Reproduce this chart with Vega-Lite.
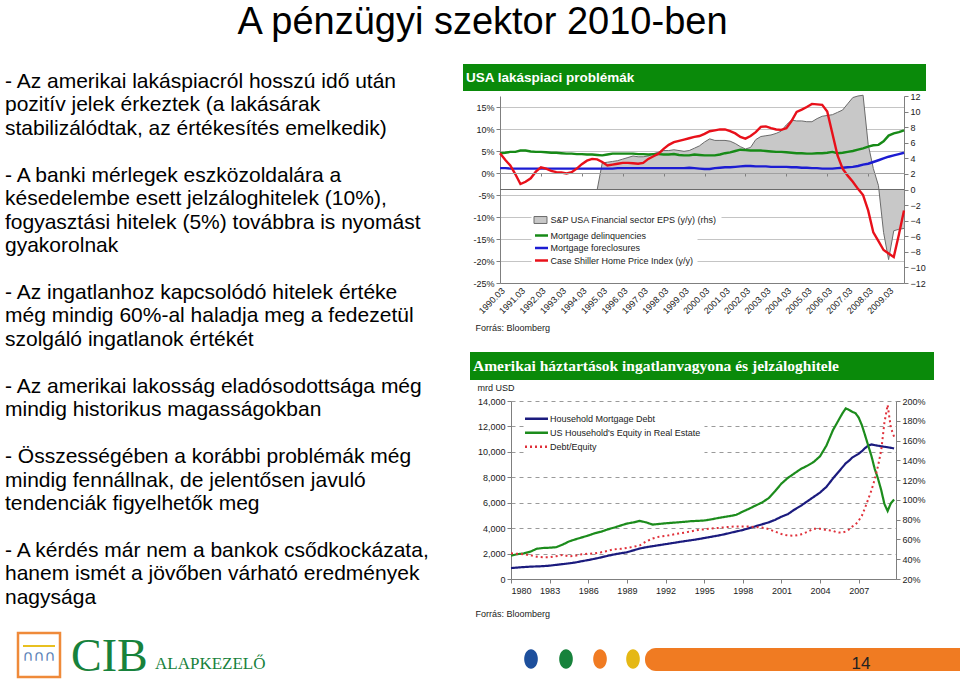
{
"$schema": "https://vega.github.io/schema/vega-lite/v6.json",
"background": "white",
"padding": {"left": 5, "top": 4, "right": 0, "bottom": 0},
"title": {"text": "A pénzügyi szektor 2010-ben", "font": "Liberation Sans", "fontSize": 38, "fontWeight": "normal", "color": "#000000", "anchor": "middle", "offset": 22},
"spacing": 10,
"resolve": {"scale": {"color": "independent", "fill": "independent", "stroke": "independent", "strokeDash": "independent"}},
"vconcat": [
 {"spacing": 0,
  "resolve": {"scale": {"color": "independent", "fill": "independent", "stroke": "independent", "strokeDash": "independent"}},
  "hconcat": [
  {"width": 458, "height": 556,
   "data": {"values": [
    {"line": 0, "text": "- Az amerikai lakáspiacról hosszú idő után"},
    {"line": 1, "text": "pozitív jelek érkeztek (a lakásárak"},
    {"line": 2, "text": "stabilizálódtak, az értékesítés emelkedik)"},
    {"line": 4, "text": "- A banki mérlegek eszközoldalára a"},
    {"line": 5, "text": "késedelembe esett jelzáloghitelek (10%),"},
    {"line": 6, "text": "fogyasztási hitelek (5%) továbbra is nyomást"},
    {"line": 7, "text": "gyakorolnak"},
    {"line": 9, "text": "- Az ingatlanhoz kapcsolódó hitelek értéke"},
    {"line": 10, "text": "még mindig 60%-al haladja meg a fedezetül"},
    {"line": 11, "text": "szolgáló ingatlanok értékét"},
    {"line": 13, "text": "- Az amerikai lakosság eladósodottsága még"},
    {"line": 14, "text": "mindig historikus magasságokban"},
    {"line": 16, "text": "- Összességében a korábbi problémák még"},
    {"line": 17, "text": "mindig fennállnak, de jelentősen javuló"},
    {"line": 18, "text": "tendenciák figyelhetők meg"},
    {"line": 20, "text": "- A kérdés már nem a bankok csődkockázata,"},
    {"line": 21, "text": "hanem ismét a jövőben várható eredmények"},
    {"line": 22, "text": "nagysága"}
   ]},
   "mark": {"type": "text", "align": "left", "baseline": "middle", "fontSize": 21, "font": "Liberation Sans", "color": "#000000"},
   "encoding": {
    "x": {"datum": 0, "type": "quantitative", "scale": {"domain": [0, 1]}, "axis": null},
    "y": {"field": "line", "type": "quantitative", "scale": {"domain": [-0.768, 22.943], "reverse": true, "nice": false, "zero": false}, "axis": null},
    "text": {"field": "text", "type": "nominal"}
   }
  },
  {"spacing": 20,
   "resolve": {"scale": {"color": "independent", "fill": "independent", "stroke": "independent", "strokeDash": "independent"}},
   "vconcat": [
   {"spacing": 1,
    "resolve": {"scale": {"color": "independent", "fill": "independent", "stroke": "independent", "strokeDash": "independent"}},
    "vconcat": [
    {"width": 463, "height": 27, "view": {"fill": "#0a8a0a", "stroke": null},
     "data": {"values": [{"t": "USA lakáspiaci problémák"}]},
     "mark": {"type": "text", "align": "left", "baseline": "middle", "dx": 3, "fontSize": 13.5, "fontWeight": "bold", "font": "Liberation Sans", "color": "#ffffff"},
     "encoding": {
      "x": {"datum": 0, "type": "quantitative", "scale": {"domain": [0, 1]}, "axis": null},
      "y": {"datum": 0.5, "type": "quantitative", "scale": {"domain": [0, 1]}, "axis": null},
      "text": {"field": "t", "type": "nominal"}
     }
    },
    {"spacing": 0,
     "resolve": {"scale": {"color": "independent", "fill": "independent", "stroke": "independent", "strokeDash": "independent"}},
     "hconcat": [
     {"width": 3, "height": 1, "data": {"values": [{"s": 0}]}, "mark": {"type": "point", "size": 0, "opacity": 0, "strokeWidth": 0}, "encoding": {}},
     {"width": 404, "height": 187,
     "data": {"values": [
      {"d":"1990-03-01","eps":0,"delinq":4.5,"forecl":1.1,"cs":4.5},
      {"d":"1990-06-01","eps":0,"delinq":4.6,"forecl":1.1,"cs":3.0},
      {"d":"1990-09-01","eps":0,"delinq":4.8,"forecl":1.0,"cs":1.7},
      {"d":"1990-12-01","eps":0,"delinq":4.8,"forecl":1.0,"cs":-0.3},
      {"d":"1991-03-01","eps":0,"delinq":5.1,"forecl":1.0,"cs":-2.5},
      {"d":"1991-06-01","eps":0,"delinq":5.1,"forecl":1.0,"cs":-2.0},
      {"d":"1991-09-01","eps":0,"delinq":4.9,"forecl":1.0,"cs":-1.2},
      {"d":"1991-12-01","eps":0,"delinq":4.8,"forecl":1.0,"cs":0.3},
      {"d":"1992-03-01","eps":0,"delinq":4.8,"forecl":1.0,"cs":1.3},
      {"d":"1992-06-01","eps":0,"delinq":4.7,"forecl":1.0,"cs":1.0},
      {"d":"1992-09-01","eps":0,"delinq":4.6,"forecl":1.0,"cs":0.5},
      {"d":"1992-12-01","eps":0,"delinq":4.6,"forecl":1.0,"cs":0.2},
      {"d":"1993-03-01","eps":0,"delinq":4.5,"forecl":1.0,"cs":0.1},
      {"d":"1993-06-01","eps":0,"delinq":4.4,"forecl":1.0,"cs":-0.1},
      {"d":"1993-09-01","eps":0,"delinq":4.4,"forecl":1.0,"cs":0.2},
      {"d":"1993-12-01","eps":0,"delinq":4.3,"forecl":1.0,"cs":1.0},
      {"d":"1994-03-01","eps":0,"delinq":4.3,"forecl":1.0,"cs":2.0},
      {"d":"1994-06-01","eps":0,"delinq":4.2,"forecl":1.0,"cs":2.8},
      {"d":"1994-09-01","eps":0,"delinq":4.2,"forecl":1.0,"cs":3.2},
      {"d":"1994-12-01","eps":0,"delinq":4.1,"forecl":1.0,"cs":3.1},
      {"d":"1995-03-01","eps":3.4,"delinq":4.0,"forecl":1.0,"cs":2.5},
      {"d":"1995-06-01","eps":3.5,"delinq":4.2,"forecl":1.0,"cs":1.7},
      {"d":"1995-09-01","eps":3.6,"delinq":4.4,"forecl":1.0,"cs":1.9},
      {"d":"1995-12-01","eps":3.7,"delinq":4.4,"forecl":1.1,"cs":2.1},
      {"d":"1996-03-01","eps":3.9,"delinq":4.4,"forecl":1.1,"cs":2.3},
      {"d":"1996-06-01","eps":4.1,"delinq":4.4,"forecl":1.1,"cs":2.3},
      {"d":"1996-09-01","eps":4.3,"delinq":4.4,"forecl":1.1,"cs":2.2},
      {"d":"1996-12-01","eps":4.2,"delinq":4.3,"forecl":1.1,"cs":2.1},
      {"d":"1997-03-01","eps":4.2,"delinq":4.3,"forecl":1.1,"cs":2.3},
      {"d":"1997-06-01","eps":4.3,"delinq":4.2,"forecl":1.1,"cs":3.2},
      {"d":"1997-09-01","eps":4.6,"delinq":4.3,"forecl":1.1,"cs":3.8},
      {"d":"1997-12-01","eps":4.8,"delinq":4.3,"forecl":1.1,"cs":4.4},
      {"d":"1998-03-01","eps":5.0,"delinq":4.2,"forecl":1.1,"cs":5.5},
      {"d":"1998-06-01","eps":5.0,"delinq":4.2,"forecl":1.1,"cs":6.4},
      {"d":"1998-09-01","eps":5.1,"delinq":4.3,"forecl":1.1,"cs":7.0},
      {"d":"1998-12-01","eps":5.0,"delinq":4.1,"forecl":1.1,"cs":7.3},
      {"d":"1999-03-01","eps":4.9,"delinq":4.0,"forecl":1.1,"cs":7.6},
      {"d":"1999-06-01","eps":5.0,"delinq":4.0,"forecl":1.2,"cs":7.9},
      {"d":"1999-09-01","eps":5.3,"delinq":4.2,"forecl":1.1,"cs":8.2},
      {"d":"1999-12-01","eps":5.6,"delinq":4.1,"forecl":1.0,"cs":8.4},
      {"d":"2000-03-01","eps":6.1,"delinq":4.0,"forecl":0.9,"cs":8.9},
      {"d":"2000-06-01","eps":6.5,"delinq":4.0,"forecl":0.9,"cs":9.5},
      {"d":"2000-09-01","eps":6.3,"delinq":4.0,"forecl":1.1,"cs":9.7},
      {"d":"2000-12-01","eps":6.3,"delinq":4.2,"forecl":1.2,"cs":9.9},
      {"d":"2001-03-01","eps":6.3,"delinq":4.5,"forecl":1.3,"cs":9.9},
      {"d":"2001-06-01","eps":6.2,"delinq":4.7,"forecl":1.3,"cs":9.5},
      {"d":"2001-09-01","eps":5.9,"delinq":5.0,"forecl":1.4,"cs":9.0},
      {"d":"2001-12-01","eps":5.5,"delinq":5.3,"forecl":1.5,"cs":8.2},
      {"d":"2002-03-01","eps":5.2,"delinq":5.2,"forecl":1.6,"cs":7.8},
      {"d":"2002-06-01","eps":5.4,"delinq":5.1,"forecl":1.6,"cs":8.4},
      {"d":"2002-09-01","eps":6.4,"delinq":5.1,"forecl":1.5,"cs":9.3},
      {"d":"2002-12-01","eps":6.8,"delinq":5.1,"forecl":1.5,"cs":10.5},
      {"d":"2003-03-01","eps":6.9,"delinq":5.0,"forecl":1.5,"cs":10.6},
      {"d":"2003-06-01","eps":7.0,"delinq":4.9,"forecl":1.4,"cs":10.2},
      {"d":"2003-09-01","eps":7.2,"delinq":4.8,"forecl":1.4,"cs":9.9},
      {"d":"2003-12-01","eps":7.5,"delinq":4.8,"forecl":1.4,"cs":9.8},
      {"d":"2004-03-01","eps":8.3,"delinq":4.7,"forecl":1.4,"cs":10.2},
      {"d":"2004-06-01","eps":8.9,"delinq":4.6,"forecl":1.3,"cs":11.8},
      {"d":"2004-09-01","eps":8.8,"delinq":4.5,"forecl":1.3,"cs":13.9},
      {"d":"2004-12-01","eps":8.8,"delinq":4.5,"forecl":1.2,"cs":14.4},
      {"d":"2005-03-01","eps":8.7,"delinq":4.4,"forecl":1.2,"cs":15.0},
      {"d":"2005-06-01","eps":8.7,"delinq":4.4,"forecl":1.1,"cs":15.7},
      {"d":"2005-09-01","eps":9.1,"delinq":4.5,"forecl":1.1,"cs":15.6},
      {"d":"2005-12-01","eps":9.4,"delinq":4.5,"forecl":1.0,"cs":15.5},
      {"d":"2006-03-01","eps":9.5,"delinq":4.6,"forecl":1.0,"cs":14.0},
      {"d":"2006-06-01","eps":9.6,"delinq":4.8,"forecl":1.0,"cs":9.0},
      {"d":"2006-09-01","eps":9.9,"delinq":4.5,"forecl":1.1,"cs":4.0},
      {"d":"2006-12-01","eps":10.2,"delinq":4.6,"forecl":1.2,"cs":1.0},
      {"d":"2007-03-01","eps":11.0,"delinq":4.8,"forecl":1.3,"cs":-0.6},
      {"d":"2007-06-01","eps":11.8,"delinq":5.0,"forecl":1.4,"cs":-2.0},
      {"d":"2007-09-01","eps":12.0,"delinq":5.3,"forecl":1.6,"cs":-3.6},
      {"d":"2007-12-01","eps":12.1,"delinq":5.6,"forecl":1.9,"cs":-5.0},
      {"d":"2008-03-01","eps":5.8,"delinq":6.0,"forecl":2.1,"cs":-8.5},
      {"d":"2008-06-01","eps":2.7,"delinq":6.3,"forecl":2.5,"cs":-13.5},
      {"d":"2008-09-01","eps":0.5,"delinq":6.4,"forecl":2.9,"cs":-15.5},
      {"d":"2008-12-01","eps":-5.5,"delinq":7.2,"forecl":3.3,"cs":-17.5},
      {"d":"2009-03-01","eps":-9.0,"delinq":8.5,"forecl":3.7,"cs":-18.3},
      {"d":"2009-06-01","eps":-5.3,"delinq":9.0,"forecl":4.0,"cs":-19.1},
      {"d":"2009-09-01","eps":-5.1,"delinq":9.3,"forecl":4.3,"cs":-14.0},
      {"d":"2009-12-01","eps":-5.0,"delinq":9.7,"forecl":4.6,"cs":-8.5}
     ]},
     "layer": [
      {"layer": [
       {"mark": {"type": "area"},
        "encoding": {
         "x": {"field": "d", "type": "temporal", "scale": {"type": "utc", "domain": [{"year":1990,"month":3,"date":1,"utc":true},{"year":2009,"month":12,"date":1,"utc":true}], "nice": false},
               "axis": {"orient": "bottom", "values": [{"year":1990,"month":3,"date":1,"utc":true},{"year":1991,"month":3,"date":1,"utc":true},{"year":1992,"month":3,"date":1,"utc":true},{"year":1993,"month":3,"date":1,"utc":true},{"year":1994,"month":3,"date":1,"utc":true},{"year":1995,"month":3,"date":1,"utc":true},{"year":1996,"month":3,"date":1,"utc":true},{"year":1997,"month":3,"date":1,"utc":true},{"year":1998,"month":3,"date":1,"utc":true},{"year":1999,"month":3,"date":1,"utc":true},{"year":2000,"month":3,"date":1,"utc":true},{"year":2001,"month":3,"date":1,"utc":true},{"year":2002,"month":3,"date":1,"utc":true},{"year":2003,"month":3,"date":1,"utc":true},{"year":2004,"month":3,"date":1,"utc":true},{"year":2005,"month":3,"date":1,"utc":true},{"year":2006,"month":3,"date":1,"utc":true},{"year":2007,"month":3,"date":1,"utc":true},{"year":2008,"month":3,"date":1,"utc":true},{"year":2009,"month":3,"date":1,"utc":true}],
                        "labels": false, "ticks": true, "tickSize": 3, "domain": true, "domainColor": "#a0a0a0", "domainWidth": 1, "grid": false, "offset": -110, "title": null, "zindex": 1}},
         "y": {"field": "eps", "type": "quantitative", "scale": {"domain": [-12, 12], "nice": false},
               "axis": {"orient": "right", "values": [-12,-10,-8,-6,-4,-2,0,2,4,6,8,10,12], "labelOverlap": false, "grid": false, "tickSize": 4, "labelPadding": 2, "title": null}},
         "fill": {"datum": "S&P USA Financial sector EPS (y/y) (rhs)", "type": "nominal", "scale": {"range": ["#c8c8c8"]},
                  "legend": {"orient": "none", "legendX": 31.5, "legendY": 115, "title": null, "symbolType": "M-1.5,-0.8H1.5V0.8H-1.5Z", "symbolSize": 75, "symbolStrokeColor": "#6b6b6b", "symbolStrokeWidth": 1, "labelFontSize": 9, "labelLimit": 300, "labelOffset": 5, "padding": 4, "fillColor": "#ffffff"}}
        }},
       {"mark": {"type": "line", "color": "#6b6b6b", "strokeWidth": 1},
        "encoding": {
         "x": {"field": "d", "type": "temporal"},
         "y": {"field": "eps", "type": "quantitative",
               "axis": {"orient": "right", "values": [-12,-10,-8,-6,-4,-2,0,2,4,6,8,10,12], "labelOverlap": false, "grid": false, "tickSize": 4, "labelPadding": 2, "title": null}}
        }},
       {"mark": {"type": "rule", "color": "#6b6b6b", "strokeWidth": 1},
        "encoding": {"y": {"datum": 0, "type": "quantitative",
               "axis": {"orient": "right", "values": [-12,-10,-8,-6,-4,-2,0,2,4,6,8,10,12], "labelOverlap": false, "grid": false, "tickSize": 4, "labelPadding": 2, "title": null}}}}
      ]},
      {"transform": [{"fold": ["delinq", "forecl", "cs"], "as": ["key", "v"]}],
       "mark": {"type": "line", "strokeWidth": 2.4},
       "encoding": {
        "x": {"field": "d", "type": "temporal",
              "axis": {"orient": "bottom", "values": [{"year":1990,"month":3,"date":1,"utc":true},{"year":1991,"month":3,"date":1,"utc":true},{"year":1992,"month":3,"date":1,"utc":true},{"year":1993,"month":3,"date":1,"utc":true},{"year":1994,"month":3,"date":1,"utc":true},{"year":1995,"month":3,"date":1,"utc":true},{"year":1996,"month":3,"date":1,"utc":true},{"year":1997,"month":3,"date":1,"utc":true},{"year":1998,"month":3,"date":1,"utc":true},{"year":1999,"month":3,"date":1,"utc":true},{"year":2000,"month":3,"date":1,"utc":true},{"year":2001,"month":3,"date":1,"utc":true},{"year":2002,"month":3,"date":1,"utc":true},{"year":2003,"month":3,"date":1,"utc":true},{"year":2004,"month":3,"date":1,"utc":true},{"year":2005,"month":3,"date":1,"utc":true},{"year":2006,"month":3,"date":1,"utc":true},{"year":2007,"month":3,"date":1,"utc":true},{"year":2008,"month":3,"date":1,"utc":true},{"year":2009,"month":3,"date":1,"utc":true}],
                       "labelExpr": "utcFormat(datum.value, '%Y.%m')", "labelAngle": -45, "labelFontSize": 9, "labelPadding": 3, "labelOverlap": false, "ticks": false, "grid": false,
                       "title": "Forrás: Bloomberg", "titleFontSize": 9, "titleFontWeight": "normal", "titleAnchor": "start", "titleAlign": "left", "titleBaseline": "middle", "titleX": -25, "titleY": 44}},
        "y": {"field": "v", "type": "quantitative", "scale": {"domain": [-25, 17.5], "nice": false, "zero": false},
              "axis": {"orient": "left", "values": [-25,-20,-15,-10,-5,0,5,10,15], "labelExpr": "datum.value + '%'", "labelOverlap": false, "grid": true, "gridColor": "#c4c4c4", "tickSize": 4, "labelPadding": 2, "minExtent": 34, "title": null}},
        "color": {"field": "key", "type": "nominal", "scale": {"domain": ["delinq", "forecl", "cs"], "range": ["#178a17", "#1c1cd2", "#e8101a"]},
                  "legend": {"orient": "none", "legendX": 31.5, "legendY": 129.5, "title": null, "symbolType": "M-1.5,0H1.5", "symbolSize": 75, "symbolStrokeWidth": 2.5, "labelFontSize": 9, "labelLimit": 300, "labelOffset": 3, "rowPadding": 1.5, "padding": 4, "fillColor": "#ffffff",
                             "labelExpr": "datum.label == 'delinq' ? 'Mortgage delinquencies' : datum.label == 'forecl' ? 'Mortgage foreclosures' : 'Case Shiller Home Price Index (y/y)'"}}
       }}
     ],
     "resolve": {"scale": {"y": "independent"}, "axis": {"x": "independent"}}
    }
    ]}
   ]},
   {"spacing": 3,
    "resolve": {"scale": {"color": "independent", "fill": "independent", "stroke": "independent", "strokeDash": "independent"}},
    "vconcat": [
    {"spacing": 0, "hconcat": [
     {"width": 7, "height": 1, "data": {"values": [{"s": 0}]}, "mark": {"type": "point", "size": 0, "opacity": 0, "strokeWidth": 0}, "encoding": {}},
     {"width": 464, "height": 28, "view": {"fill": "#0a8a0a", "stroke": null},
     "data": {"values": [{"t": "Amerikai háztartások ingatlanvagyona és jelzáloghitele"}]},
     "mark": {"type": "text", "align": "left", "baseline": "middle", "dx": 3, "fontSize": 15.5, "fontWeight": "bold", "font": "Liberation Serif", "color": "#ffffff"},
     "encoding": {
      "x": {"datum": 0, "type": "quantitative", "scale": {"domain": [0, 1]}, "axis": null},
      "y": {"datum": 0.5, "type": "quantitative", "scale": {"domain": [0, 1]}, "axis": null},
      "text": {"field": "t", "type": "nominal"}
     }
    }]},
    {"spacing": 0,
     "resolve": {"scale": {"color": "independent", "fill": "independent", "stroke": "independent", "strokeDash": "independent"}},
     "hconcat": [
     {"width": 3, "height": 1, "data": {"values": [{"s": 0}]}, "mark": {"type": "point", "size": 0, "opacity": 0, "strokeWidth": 0}, "encoding": {}},
     {"width": 385, "height": 178,
     "data": {"values": [
      {"yr":1980,"debt":860,"equity":1840,"ratio":46},
      {"yr":1980.5,"debt":900,"equity":1950,"ratio":45.5},
      {"yr":1981,"debt":940,"equity":2020,"ratio":45},
      {"yr":1981.5,"debt":970,"equity":2150,"ratio":44},
      {"yr":1982,"debt":990,"equity":2380,"ratio":42.5},
      {"yr":1982.5,"debt":1010,"equity":2440,"ratio":42},
      {"yr":1983,"debt":1050,"equity":2460,"ratio":42},
      {"yr":1983.5,"debt":1110,"equity":2500,"ratio":43},
      {"yr":1984,"debt":1170,"equity":2700,"ratio":44.3},
      {"yr":1984.5,"debt":1230,"equity":2950,"ratio":43},
      {"yr":1985,"debt":1300,"equity":3120,"ratio":43.5},
      {"yr":1985.5,"debt":1400,"equity":3270,"ratio":45},
      {"yr":1986,"debt":1490,"equity":3420,"ratio":45.5},
      {"yr":1986.5,"debt":1590,"equity":3600,"ratio":46},
      {"yr":1987,"debt":1700,"equity":3720,"ratio":47},
      {"yr":1987.5,"debt":1820,"equity":3900,"ratio":48.5},
      {"yr":1988,"debt":1930,"equity":4040,"ratio":50},
      {"yr":1988.5,"debt":2020,"equity":4200,"ratio":50.5},
      {"yr":1989,"debt":2100,"equity":4360,"ratio":51.5},
      {"yr":1989.5,"debt":2250,"equity":4450,"ratio":52.5},
      {"yr":1990,"debt":2400,"equity":4570,"ratio":54},
      {"yr":1990.5,"debt":2500,"equity":4450,"ratio":58},
      {"yr":1991,"debt":2580,"equity":4280,"ratio":61},
      {"yr":1991.5,"debt":2660,"equity":4330,"ratio":62.8},
      {"yr":1992,"debt":2740,"equity":4380,"ratio":63.5},
      {"yr":1992.5,"debt":2820,"equity":4420,"ratio":64.8},
      {"yr":1993,"debt":2900,"equity":4460,"ratio":66},
      {"yr":1993.5,"debt":2980,"equity":4500,"ratio":67},
      {"yr":1994,"debt":3050,"equity":4550,"ratio":68.2},
      {"yr":1994.5,"debt":3130,"equity":4570,"ratio":69.5},
      {"yr":1995,"debt":3220,"equity":4600,"ratio":70.2},
      {"yr":1995.5,"debt":3310,"equity":4680,"ratio":71},
      {"yr":1996,"debt":3400,"equity":4780,"ratio":71.5},
      {"yr":1996.5,"debt":3500,"equity":4870,"ratio":72.2},
      {"yr":1997,"debt":3620,"equity":4950,"ratio":72.8},
      {"yr":1997.5,"debt":3740,"equity":5050,"ratio":73.2},
      {"yr":1998,"debt":3850,"equity":5300,"ratio":73.2},
      {"yr":1998.5,"debt":4000,"equity":5530,"ratio":73},
      {"yr":1999,"debt":4150,"equity":5780,"ratio":72.5},
      {"yr":1999.5,"debt":4300,"equity":6020,"ratio":72},
      {"yr":2000,"debt":4450,"equity":6350,"ratio":70.5},
      {"yr":2000.5,"debt":4650,"equity":6900,"ratio":68},
      {"yr":2001,"debt":4900,"equity":7500,"ratio":65.5},
      {"yr":2001.5,"debt":5100,"equity":7950,"ratio":64},
      {"yr":2002,"debt":5450,"equity":8300,"ratio":63.7},
      {"yr":2002.5,"debt":5750,"equity":8650,"ratio":65},
      {"yr":2003,"debt":6100,"equity":8900,"ratio":67.5},
      {"yr":2003.5,"debt":6450,"equity":9200,"ratio":70.8},
      {"yr":2004,"debt":6800,"equity":9650,"ratio":70.8},
      {"yr":2004.5,"debt":7250,"equity":10500,"ratio":69.5},
      {"yr":2005,"debt":7900,"equity":11700,"ratio":68.8},
      {"yr":2005.25,"debt":8200,"equity":12150,"ratio":67.5},
      {"yr":2005.5,"debt":8500,"equity":12600,"ratio":67},
      {"yr":2005.75,"debt":8800,"equity":13050,"ratio":67},
      {"yr":2006,"debt":9100,"equity":13420,"ratio":68},
      {"yr":2006.25,"debt":9300,"equity":13300,"ratio":70},
      {"yr":2006.5,"debt":9550,"equity":13150,"ratio":73},
      {"yr":2006.75,"debt":9700,"equity":13050,"ratio":75},
      {"yr":2007,"debt":9850,"equity":12700,"ratio":79},
      {"yr":2007.25,"debt":10050,"equity":12100,"ratio":84},
      {"yr":2007.5,"debt":10300,"equity":11300,"ratio":92},
      {"yr":2007.75,"debt":10500,"equity":10470,"ratio":101},
      {"yr":2008,"debt":10580,"equity":9650,"ratio":110},
      {"yr":2008.25,"debt":10530,"equity":8650,"ratio":121},
      {"yr":2008.5,"debt":10480,"equity":7900,"ratio":134},
      {"yr":2008.75,"debt":10440,"equity":7000,"ratio":150},
      {"yr":2009,"debt":10400,"equity":5900,"ratio":178},
      {"yr":2009.25,"debt":10360,"equity":5350,"ratio":196},
      {"yr":2009.5,"debt":10320,"equity":5950,"ratio":173},
      {"yr":2009.75,"debt":10270,"equity":6250,"ratio":164}
     ]},
     "transform": [{"fold": ["debt", "equity", "ratio"], "as": ["key", "v"]}],
     "encoding": {
      "x": {"field": "yr", "type": "quantitative", "scale": {"domain": [1980, 2009.9], "nice": false, "zero": false},
            "axis": {"values": [1980,1983,1986,1989,1992,1995,1998,2001,2004,2007], "format": "d", "labelOverlap": false, "tickSize": 4, "labelPadding": 3, "grid": false,
                     "title": "Forrás: Bloomberg", "titleFontSize": 9, "titleFontWeight": "normal", "titleAnchor": "start", "titleAlign": "left", "titleBaseline": "middle", "titleX": -36, "titleY": 34}},
      "stroke": {"field": "key", "type": "nominal", "scale": {"domain": ["debt", "equity", "ratio"], "range": ["#1b1b7e", "#1c8c1c", "#e0303a"]},
                "legend": {"orient": "none", "legendX": 14.5, "legendY": 6.7, "title": null, "symbolType": "M-2,0H2", "symbolSize": 132, "symbolStrokeWidth": 2.5, "labelFontSize": 9, "labelLimit": 300, "labelOffset": 6.5, "rowPadding": 2, "padding": 4, "fillColor": "#ffffff",
                           "labelExpr": "datum.label == 'debt' ? 'Household Mortgage Debt' : datum.label == 'equity' ? \"US Household's Equity in Real Estate\" : 'Debt/Equity'"}},
      "strokeDash": {"field": "key", "type": "nominal", "scale": {"domain": ["debt", "equity", "ratio"], "range": [[1, 0], [1, 0], [2, 3]]},
                "legend": {"orient": "none", "legendX": 14.5, "legendY": 6.7, "title": null, "symbolType": "M-2,0H2", "symbolSize": 132, "symbolStrokeWidth": 2.5, "labelFontSize": 9, "labelLimit": 300, "labelOffset": 6.5, "rowPadding": 2, "padding": 4, "fillColor": "#ffffff",
                           "labelExpr": "datum.label == 'debt' ? 'Household Mortgage Debt' : datum.label == 'equity' ? \"US Household's Equity in Real Estate\" : 'Debt/Equity'"}}
     },
     "layer": [
      {"transform": [{"filter": "datum.key != 'ratio'"}],
       "mark": {"type": "line", "strokeWidth": 2.2},
       "encoding": {
        "y": {"field": "v", "type": "quantitative", "scale": {"domain": [0, 14000], "nice": false},
              "axis": {"orient": "left", "values": [0,2000,4000,6000,8000,10000,12000,14000], "format": ",d", "labelOverlap": false, "grid": true, "gridDash": [4, 4], "gridColor": "#9a9a9a", "tickSize": 4, "labelPadding": 2, "minExtent": 45,
                       "title": "mrd USD", "titleAngle": 0, "titleAlign": "left", "titleBaseline": "alphabetic", "titleX": -34, "titleY": -11, "titleFontSize": 9, "titleFontWeight": "normal"}}
       }},
      {"transform": [{"filter": "datum.key == 'ratio'"}],
       "mark": {"type": "line", "strokeWidth": 2},
       "encoding": {
        "y": {"field": "v", "type": "quantitative", "scale": {"domain": [20, 200], "nice": false, "zero": false},
              "axis": {"orient": "right", "values": [20,40,60,80,100,120,140,160,180,200], "labelExpr": "datum.value + '%'", "labelOverlap": false, "grid": false, "tickSize": 4, "labelPadding": 2, "title": null}}
       }}
     ],
     "resolve": {"scale": {"y": "independent"}}
    }
    ]}
   ]}
  ]}
 ]},
 {"width": 955, "height": 49,
  "data": {"values": [{"brand": "CIB", "sub": "ALAPKEZELŐ", "page": "14", "arch": "∩∩∩"}]},
  "layer": [
   {"mark": {"type": "rect", "color": "#f07b22", "cornerRadiusTopLeft": 11, "cornerRadiusBottomLeft": 11},
    "encoding": {
     "x": {"datum": 640, "type": "quantitative", "scale": {"domain": [0, 955], "nice": false, "zero": false}, "axis": null},
     "x2": {"datum": 955},
     "y": {"datum": 18, "type": "quantitative", "scale": {"domain": [0, 49], "reverse": true, "nice": false, "zero": false}, "axis": null},
     "y2": {"datum": 41}
    }},
   {"mark": {"type": "rect", "fill": "transparent", "stroke": "#ef8a3a", "strokeWidth": 2.5},
    "encoding": {"x": {"datum": 13, "type": "quantitative"}, "x2": {"datum": 55}, "y": {"datum": 3, "type": "quantitative"}, "y2": {"datum": 47}}},
   {"mark": {"type": "rule", "color": "#e8c020", "strokeWidth": 2},
    "encoding": {"x": {"datum": 18, "type": "quantitative"}, "x2": {"datum": 50}, "y": {"datum": 16, "type": "quantitative"}}},
   {"mark": {"type": "text", "font": "DejaVu Sans", "fontSize": 15, "color": "#5b82b8", "align": "center", "baseline": "middle"},
    "encoding": {"x": {"datum": 34, "type": "quantitative"}, "y": {"datum": 26, "type": "quantitative"}, "text": {"field": "arch", "type": "nominal"}}},
   {"mark": {"type": "text", "font": "Liberation Serif", "fontSize": 46, "color": "#17823c", "align": "left", "baseline": "alphabetic"},
    "encoding": {"x": {"datum": 66, "type": "quantitative"}, "y": {"datum": 41, "type": "quantitative"}, "text": {"field": "brand", "type": "nominal"}}},
   {"mark": {"type": "text", "font": "Liberation Serif", "fontSize": 17, "color": "#17823c", "align": "left", "baseline": "alphabetic"},
    "encoding": {"x": {"datum": 150, "type": "quantitative"}, "y": {"datum": 39, "type": "quantitative"}, "text": {"field": "sub", "type": "nominal"}}},
   {"mark": {"type": "point", "shape": "M-0.7,0A0.7,1,0,1,0,0.7,0A0.7,1,0,1,0,-0.7,0Z", "size": 380, "filled": true, "color": "#1d4f9c", "opacity": 1, "strokeWidth": 0},
    "encoding": {"x": {"datum": 526, "type": "quantitative"}, "y": {"datum": 29, "type": "quantitative"}}},
   {"mark": {"type": "point", "shape": "M-0.7,0A0.7,1,0,1,0,0.7,0A0.7,1,0,1,0,-0.7,0Z", "size": 380, "filled": true, "color": "#17823c", "opacity": 1, "strokeWidth": 0},
    "encoding": {"x": {"datum": 561, "type": "quantitative"}, "y": {"datum": 29, "type": "quantitative"}}},
   {"mark": {"type": "point", "shape": "M-0.7,0A0.7,1,0,1,0,0.7,0A0.7,1,0,1,0,-0.7,0Z", "size": 380, "filled": true, "color": "#f07b22", "opacity": 1, "strokeWidth": 0},
    "encoding": {"x": {"datum": 595, "type": "quantitative"}, "y": {"datum": 29, "type": "quantitative"}}},
   {"mark": {"type": "point", "shape": "M-0.7,0A0.7,1,0,1,0,0.7,0A0.7,1,0,1,0,-0.7,0Z", "size": 380, "filled": true, "color": "#e5b815", "opacity": 1, "strokeWidth": 0},
    "encoding": {"x": {"datum": 628, "type": "quantitative"}, "y": {"datum": 29, "type": "quantitative"}}},
   {"mark": {"type": "text", "font": "Liberation Sans", "fontSize": 17, "color": "#222222", "align": "center", "baseline": "middle"},
    "encoding": {"x": {"datum": 856, "type": "quantitative"}, "y": {"datum": 34, "type": "quantitative"}, "text": {"field": "page", "type": "nominal"}}}
  ]
 }
],
"config": {
 "font": "Liberation Sans",
 "view": {"stroke": null},
 "axis": {"labelFont": "Liberation Sans", "labelFontSize": 9, "labelColor": "#1a1a1a", "domainColor": "#7f7f7f", "tickColor": "#7f7f7f", "titleFont": "Liberation Sans", "titleColor": "#1a1a1a"},
 "legend": {"labelFont": "Liberation Sans", "labelColor": "#1a1a1a"}
}
}
